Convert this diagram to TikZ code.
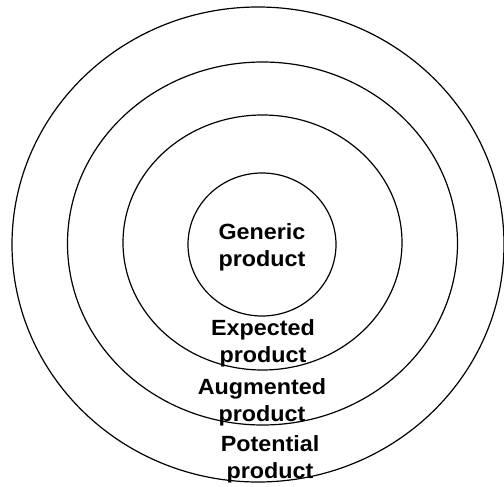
\documentclass[tikz,border=0pt]{standalone}
\usepackage{fontspec}
\setmainfont{Liberation Sans}
\usetikzlibrary{positioning, shapes.geometric}
\tikzset{
  ring/.style={ellipse, draw, line width=1.2pt, inner sep=0pt},
  lbl/.style={font=\fontsize{22}{27}\selectfont\bfseries, align=center,
              inner sep=0pt, xscale=1.06, transform shape},
}

\begin{document}
\begin{tikzpicture}[x=1pt, y=-1pt]
    \useasboundingbox (0,0) rectangle (504,487);

    % rings
    \node[ring, minimum width=492pt, minimum height=475pt] (potential) at (258,244.5) {};
    \node[ring, minimum width=390pt, minimum height=363pt] (augmented) at (262.5,243.5) {};
    \node[ring, minimum width=279pt, minimum height=255pt] (expected) at (262.5,242.5) {};
    \node[ring, minimum width=148pt, minimum height=143pt] (generic) at (262,244.5) {};

    % labels
    \node[lbl] (generic lbl) at (262,247) {Generic\\product};
    \node[lbl] (expected lbl) at (263,343) {Expected\\product};
    \node[lbl] (augmented lbl) at (262,402) {Augmented\\product};
    \node[lbl] (potential lbl) at (270,459) {Potential\\product};
\end{tikzpicture}
\end{document}
